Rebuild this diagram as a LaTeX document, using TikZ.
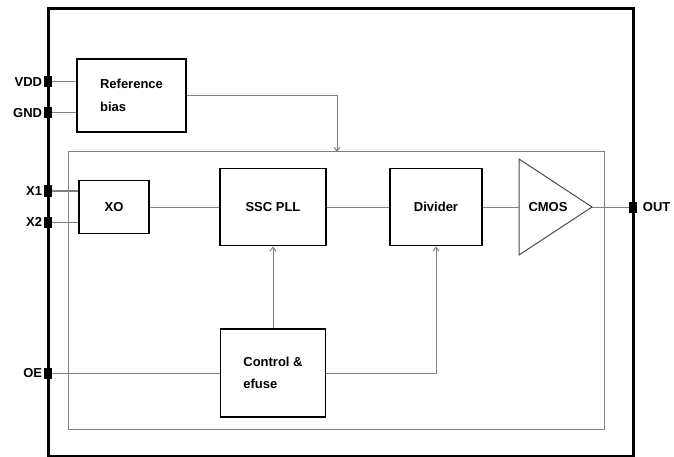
\documentclass[tikz,border=0pt]{standalone}
\usepackage{fontspec}
\setmainfont{Liberation Sans}
\usetikzlibrary{arrows.meta}

\tikzset{
	block/.style={draw, line width=1.8pt, inner sep=0pt, align=left,
		font=\bfseries\fontsize{13}{22.5}\selectfont},
	pad/.style={fill=black, inner sep=0pt, minimum width=8pt,
		minimum height=11pt, label distance=1.5pt},
	wire/.style={draw=gray, line width=1pt},
}

\begin{document}
\begin{tikzpicture}[x=1pt,y=-1pt,font=\bfseries\fontsize{13}{15}\selectfont]
		\useasboundingbox (0,0) rectangle (674,457);

		% chip outline and core area
		\draw[line width=3pt] (48,9) rectangle (633,456);
		\draw[wire] (68,152) rectangle (604,429);

		\begin{scope}[every node/.style={block}]
			\node[minimum width=109pt, minimum height=73pt] (refbias) at (131.5,95.5) {Reference\\bias};
			\node[minimum width=70pt, minimum height=53pt] (xo) at (114,207) {XO};
			\node[minimum width=106pt, minimum height=77pt] (pll) at (273,207) {SSC PLL};
			\node[minimum width=92pt, minimum height=77pt] (div) at (436,207) {Divider};
			\node[minimum width=105pt, minimum height=88pt] (ctrl) at (273,373) {Control \&\\efuse};
		\end{scope}

		% output buffer
		\coordinate (cmosin) at (519,207);
		\coordinate (cmosout) at (592,207);
		\draw[line width=1pt, draw=gray!60!black] (519,159) -- (cmosout) -- (519,255) -- cycle;
		\node (cmos) at (548,207) {CMOS};

		\coordinate (biasin) at (337,152);

		\begin{scope}[every node/.style={pad}]
			\node[label=left:VDD] (vdd) at (48,82) {};
			\node[label=left:GND] (gnd) at (48,113) {};
			\node[label=left:X1] (x1) at (48,191) {};
			\node[label=left:X2] (x2) at (48,222) {};
			\node[label=left:OE] (oe) at (48,373) {};
			\node[label={[label distance=5.5pt]right:OUT}] (out) at (633,207) {};
		\end{scope}

		\begin{scope}[>={Straight Barb[length=4pt,width=6pt]},
					  every edge/.style={wire}]
			\path (vdd) edge (vdd -| refbias.west);
			\path (gnd) edge (gnd -| refbias.west);
			\path (x1) edge (x1 -| xo.west);
			\path (x2) edge (x2 -| xo.west);
			\path (oe) edge (ctrl);

			\path (xo) edge (pll);
			\path (pll) edge (div);
			\path (div) edge (cmosin);
			\path (cmosout) edge (out);

			\path [->] (ctrl) edge (pll);
			\draw [wire,->] (ctrl) -| (div);
			\draw [wire,->] (refbias) -| (biasin);
		\end{scope}
		\end{tikzpicture}
\end{document}
